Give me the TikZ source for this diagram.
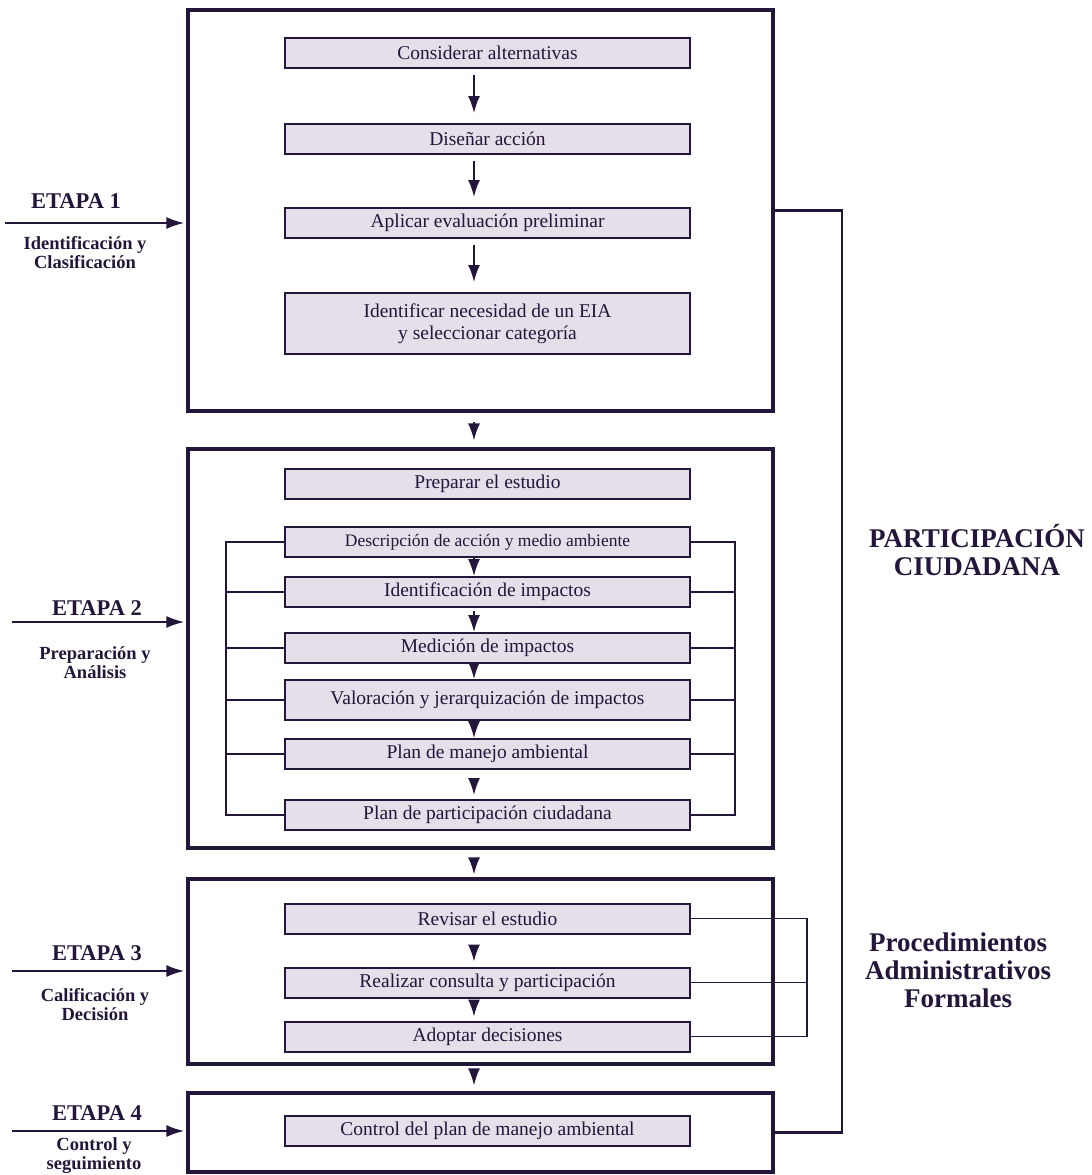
\documentclass[tikz,border=0pt]{standalone}
\usepackage{fontspec}
\setmainfont{Liberation Serif}
\usetikzlibrary{arrows.meta,positioning,calc}
\definecolor{eiaink}{RGB}{36,22,58}
\definecolor{eiafill}{RGB}{228,223,233}

\tikzset{
  stagebox/.style={draw=eiaink, line width=3.2pt, minimum width=585pt, inner sep=0pt},
  taskbox/.style={draw=eiaink, fill=eiafill, line width=2pt, minimum width=405pt, minimum height=30pt,
    inner sep=0pt, text=eiaink, font=\fontsize{19.5}{22}\selectfont, align=center},
  flow/.style={draw=eiaink, line width=1.7pt, -{Latex[length=17pt,width=12pt]}},
  inflow/.style={draw=eiaink, line width=2.2pt, -{Latex[length=18pt,width=12pt]}, shorten >=2pt},
  tie/.style={draw=eiaink, line width=1.5pt},
  loopline/.style={draw=eiaink, line width=2.6pt},
  etapa/.style={text=eiaink, font=\bfseries\fontsize{22.5}{26}\selectfont, anchor=base},
  subt/.style={text=eiaink, font=\bfseries\fontsize{18.5}{19}\selectfont, align=center},
  sidelbl/.style={text=eiaink, font=\bfseries\fontsize{27}{28}\selectfont, align=center}
}

\begin{document}
\begin{tikzpicture}[x=1pt, y=-1pt]
  \useasboundingbox (0,0) rectangle (1092,1175);

  % stage frames
  \node[stagebox, minimum height=401pt] (s1) at (480.5,210.5) {};
  \node[stagebox, minimum height=399pt] (s2) at (480.5,648.5) {};
  \node[stagebox, minimum height=185pt] (s3) at (480.5,971.5) {};
  \node[stagebox, minimum height=79pt] (s4) at (480.5,1132.5) {};

  % ETAPA 1
  \node[taskbox] (alt) at (487.5,52.5) {Considerar alternativas};
  \node[taskbox] (dis) at (487.5,139) {Diseñar acción};
  \node[taskbox] (apl) at (487.5,223) {Aplicar evaluación preliminar};
  \node[taskbox, minimum height=61pt] (nec) at (487.5,323.5) {Identificar necesidad de un EIA\\y seleccionar categoría};

  % ETAPA 2
  \node[taskbox] (prep) at (487.5,484) {Preparar el estudio};
  \node[taskbox, font=\fontsize{17.5}{20}\selectfont] (desc) at (487.5,542) {Descripción de acción y medio ambiente};
  \node[taskbox] (iden) at (487.5,592) {Identificación de impactos};
  \node[taskbox] (med) at (487.5,648) {Medición de impactos};
  \node[taskbox, minimum height=40pt] (val) at (487.5,700) {Valoración y jerarquización de impactos};
  \node[taskbox] (plan) at (487.5,754) {Plan de manejo ambiental};
  \node[taskbox] (part) at (487.5,815) {Plan de participación ciudadana};

  % ETAPA 3
  \node[taskbox] (rev) at (487.5,918.5) {Revisar el estudio};
  \node[taskbox] (rea) at (487.5,982.5) {Realizar consulta y participación};
  \node[taskbox] (ado) at (487.5,1036.5) {Adoptar decisiones};

  % ETAPA 4
  \node[taskbox] (con) at (487.5,1131) {Control del plan de manejo ambiental};

  % arrow column and bracket columns
  \coordinate (ax) at (474,0);
  \coordinate (lb) at (226,0);
  \coordinate (rb) at (735,0);
  \coordinate (b3) at (807,0);
  \coordinate (fb) at (842,0);

  \draw[flow, shorten <=6pt, shorten >=10pt] (alt.south -| ax) -- (dis.north -| ax);
  \draw[flow, shorten <=6pt, shorten >=10pt] (dis.south -| ax) -- (apl.north -| ax);
  \draw[flow, shorten <=6pt, shorten >=10pt] (apl.south -| ax) -- (nec.north -| ax);

  \draw[flow, shorten <=9pt, shorten >=7pt] (s1.south -| ax) -- (s2.north -| ax);
  \draw[flow, shorten <=11pt, shorten >=3pt] (s2.south -| ax) -- (s3.north -| ax);
  \draw[flow, shorten <=4pt, shorten >=6pt] (s3.south -| ax) -- (s4.north -| ax);

  \draw[flow] (desc.south -| ax) -- (iden.north -| ax);
  \draw[flow, shorten <=3pt] (iden.south -| ax) -- (med.north -| ax);
  \draw[flow] (med.south -| ax) -- (val.north -| ax);
  \draw[flow, shorten <=2pt] (val.south -| ax) -- (plan.north -| ax);
  \draw[flow, shorten <=11pt, shorten >=4pt] (plan.south -| ax) -- (part.north -| ax);

  \draw[flow, shorten <=12pt, shorten >=5pt] (rev.south -| ax) -- (rea.north -| ax);
  \draw[flow, shorten <=3pt, shorten >=4pt] (rea.south -| ax) -- (ado.north -| ax);

  % side brackets of ETAPA 2
  \draw[tie] (desc.west) -- (desc.west -| lb) -- (part.west -| lb) -- (part.west);
  \draw[tie] (desc.east) -- (desc.east -| rb) -- (part.east -| rb) -- (part.east);
  \foreach \n in {iden,med,val,plan} {
    \draw[tie] (\n.west) -- (\n.west -| lb);
    \draw[tie] (\n.east) -- (\n.east -| rb);
  }

  % bracket of ETAPA 3
  \draw[tie] (rev.east) -- (rev.east -| b3) -- (ado.east -| b3) -- (ado.east);
  \draw[tie] (rea.east) -- (rea.east -| b3);

  % feedback line
  \draw[loopline] (s1.east) -- (s1.east -| fb) -- (s4.east -| fb) -- (s4.east);

  % stage labels
  \node[etapa] (et1) at (76,208) {ETAPA 1};
  \coordinate (in1) at (5,223);
  \draw[inflow] (in1) -- (in1 -| s1.west);
  \node[subt] (sb1) at (85,253) {Identificación y\\Clasificación};

  \node[etapa] (et2) at (97,615) {ETAPA 2};
  \coordinate (in2) at (12,622);
  \draw[inflow] (in2) -- (in2 -| s2.west);
  \node[subt] (sb2) at (95,663) {Preparación y\\Análisis};

  \node[etapa] (et3) at (97,960) {ETAPA 3};
  \coordinate (in3) at (12,971);
  \draw[inflow] (in3) -- (in3 -| s3.west);
  \node[subt] (sb3) at (95,1005) {Calificación y\\Decisión};

  \node[etapa] (et4) at (97,1120) {ETAPA 4};
  \coordinate (in4) at (12,1131);
  \draw[inflow] (in4) -- (in4 -| s4.west);
  \node[subt] (sb4) at (94,1156) {Control y\\seguimiento};

  % right labels
  \node[sidelbl] (pc) at (977,550) {PARTICIPACIÓN\\CIUDADANA};
  \node[sidelbl] (paf) at (958,970) {Procedimientos\\Administrativos\\Formales};
\end{tikzpicture}
\end{document}
